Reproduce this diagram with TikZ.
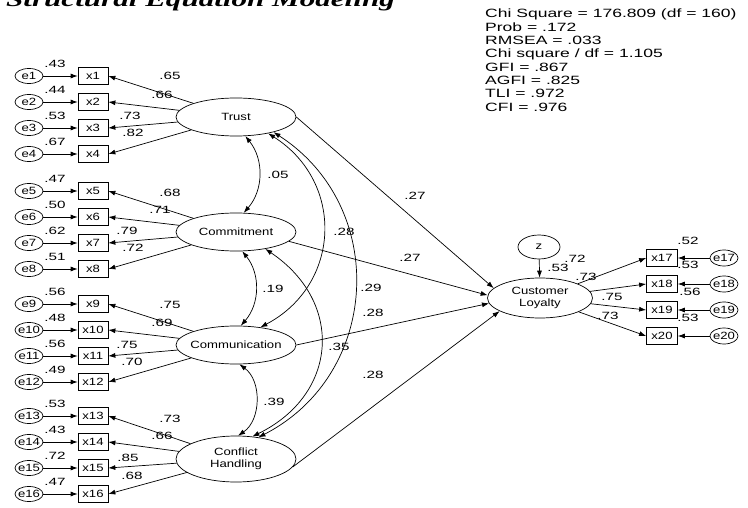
\documentclass[tikz,border=0pt]{standalone}
\usepackage{fontspec}
\setmainfont{Liberation Sans}
\newfontfamily\labfont[FakeStretch=1.25]{Liberation Sans}
\newfontfamily\numfont[FakeStretch=1.45]{Liberation Sans}
\newfontfamily\statfont[FakeStretch=1.46]{Liberation Sans}
\newfontfamily\titlefont[FakeStretch=1.48]{Liberation Serif}
\usetikzlibrary{arrows.meta,shapes.geometric}
\tikzset{
  lf/.style={font=\labfont\fontsize{10.5}{12.5}\selectfont},
  lat/.style={ellipse, draw, line width=0.7pt, minimum width=120pt, minimum height=38pt, inner sep=0pt, lf},
  err/.style={ellipse, draw, line width=0.7pt, minimum width=28pt, minimum height=15pt, inner sep=0pt, lf},
  obs/.style={rectangle, draw, line width=0.7pt, minimum width=30pt, minimum height=17pt, inner sep=0pt, lf},
  num/.style={font=\numfont\fontsize{10.5}{12}\selectfont, inner sep=0pt},
  stat/.style={font=\statfont\fontsize{12}{13}\selectfont, inner sep=0pt, anchor=base west},
  pth/.style={-{Latex[length=7pt,width=5pt]}, line width=0.7pt},
  cov/.style={{Latex[length=7pt,width=5pt]}-{Latex[length=7pt,width=5pt]}, line width=0.7pt},
}
\begin{document}
\begin{tikzpicture}[x=1pt,y=-1pt]
\useasboundingbox (0,0) rectangle (748,508);
\clip (0,0) rectangle (748,508);
\fill[white] (0,0) rectangle (748,508);

% title
\node[anchor=base west, inner sep=0pt, font=\titlefont\bfseries\itshape\fontsize{21}{24}\selectfont] (title) at (6,7) {Structural Equation Modeling};

% fit statistics
\foreach \t [count=\k] in {Chi Square = 176.809 (df = 160), Prob = .172, RMSEA = .033, Chi square / df = 1.105, GFI = .867, AGFI = .825, TLI = .972, CFI = .976}
  \node[stat] (st\k) at (485,{18+13.3*(\k-1)}) {\t};

% indicators with errors
\foreach \i/\y/\r in {1/76/.43, 2/102/.44, 3/128/.53, 4/154/.67, 5/191/.47, 6/217/.50, 7/243/.62, 8/269/.51, 9/304/.56, 10/330/.48, 11/356/.56, 12/382/.49, 13/416/.53, 14/442/.43, 15/468/.72, 16/494/.47}{
  \node[err] (e\i) at (29,\y) {\makebox[0pt]{e\i}};
  \node[obs] (x\i) at (93,\y) {x\i};
  \draw[pth] (e\i) -- (x\i);
  \node[num] (r\i) at (55,\y-12) {\r};
}

% latent variables
\node[lat] (trust) at (236,117) {\makebox[0pt]{Trust}};
\node[lat] (commit) at (236,232) {\makebox[0pt]{Commitment}};
\node[lat] (comm) at (236,345) {\makebox[0pt]{Communication}};
\node[lat, minimum height=46pt] (conf) at (236,459) {\makebox[0pt]{\begin{tabular}{@{}c@{}}Conflict\\Handling\end{tabular}}};
\node[lat, minimum width=105pt, minimum height=40pt] (loy) at (540,298) {\makebox[0pt]{\begin{tabular}{@{}c@{}}Customer\\Loyalty\end{tabular}}};
\node[err, minimum width=42pt, minimum height=24pt] (z) at (539,247) {\makebox[0pt]{z}};

% loadings
\foreach \i in {1,...,4} \draw[pth] (trust) -- (x\i.east);
\foreach \i in {5,...,8} \draw[pth] (commit) -- (x\i.east);
\foreach \i in {9,...,12} \draw[pth] (comm) -- (x\i.east);
\foreach \i in {13,...,16} \draw[pth] (conf) -- (x\i.east);

\node[num] (l1) at (170,76) {.65};
\node[num] (l2) at (162,95) {.66};
\node[num] (l3) at (130,116) {.73};
\node[num] (l4) at (133,133) {.82};
\node[num] (l5) at (170,193) {.68};
\node[num] (l6) at (160,210) {.71};
\node[num] (l7) at (127,231) {.79};
\node[num] (l8) at (133,248) {.72};
\node[num] (l9) at (170,305) {.75};
\node[num] (l10) at (162,323) {.69};
\node[num] (l11) at (127,345) {.75};
\node[num] (l12) at (132,362) {.70};
\node[num] (l13) at (170,419) {.73};
\node[num] (l14) at (162,436) {.66};
\node[num] (l15) at (128,458) {.85};
\node[num] (l16) at (132,476) {.68};

% covariances
\draw[cov] (trust.-64) to[bend left=40] (commit.68);
\draw[cov] (commit.-72) to[bend left=40] (comm.76);
\draw[cov] (comm.-80) to[bend left=55] (conf.85);
\draw[cov] (trust.-27) to[bend left=60, looseness=1.2] (comm.36);
\draw[cov] (commit.-30) to[bend left=60, looseness=1.3] (conf.54);
\draw[cov] (trust.-22) to[bend left=60, looseness=1.15] (conf.44);
\node[num] (c1) at (278,175) {.05};
\node[num] (c2) at (273,289) {.19};
\node[num] (c3) at (274,402) {.39};
\node[num] (c4) at (344,232) {.28};
\node[num] (c5) at (371,288) {.29};
\node[num] (c6) at (339,347) {.35};

% structural paths
\draw[pth] (trust.east) -- (loy.168);
\draw[pth] (commit.-10) -- (loy.177);
\draw[pth] (comm.east) -- (loy.186);
\draw[pth] (conf.-8) -- (loy.198);
\draw[pth] (z) -- (loy);
\node[num] (p1) at (415,196) {.27};
\node[num] (p2) at (410,258) {.27};
\node[num] (p3) at (373,313) {.28};
\node[num] (p4) at (373,375) {.28};

% outcome indicators
\foreach \i/\y in {17/258, 18/284, 19/310, 20/336}{
  \node[obs, minimum width=31pt] (x\i) at (662,\y) {x\i};
  \node[err, minimum width=28pt, minimum height=16pt] (e\i) at (724,\y) {\makebox[0pt]{e\i}};
  \draw[pth] (e\i) -- (x\i);
  \draw[pth] (loy) -- (x\i.west);
}
\node[num] (r17) at (688,241) {.52};
\node[num] (r18) at (688,265) {.53};
\node[num] (r19) at (690,292) {.56};
\node[num] (r20) at (688,318) {.53};
\node[num] (rl) at (558,268) {.53};
\node[num] (l17) at (575,259) {.72};
\node[num] (l18) at (586,277) {.73};
\node[num] (l19) at (612,297) {.75};
\node[num] (l20) at (608,316) {.73};
\end{tikzpicture}
\end{document}
